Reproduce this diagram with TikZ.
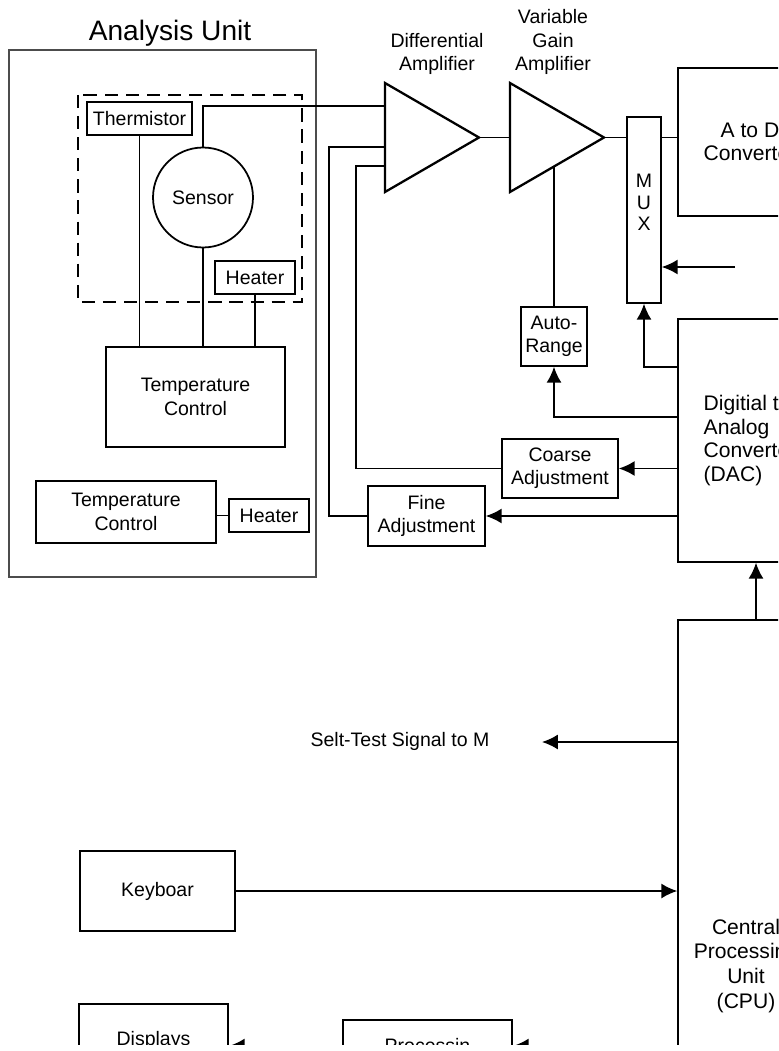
\documentclass[tikz,border=0pt]{standalone}
\usepackage{fontspec}
\setmainfont{Liberation Sans}
\usetikzlibrary{arrows.meta}

\tikzset{
    block/.style={draw, line width=0.9pt, inner sep=0pt, align=center},
    wire/.style={line width=0.9pt},
    feed/.style={wire, -{Latex[length=9pt, width=8.5pt]}},
    amp/.style={line width=1.3pt, line join=miter},
    bigtext/.style={font=\fontsize{12}{13.4}\selectfont},
}

\begin{document}
\begin{tikzpicture}[x=0.02cm, y=-0.02cm, font=\fontsize{11.1}{13.3}\selectfont]
    \useasboundingbox (0, 0) rectangle (778, 1051);
    \clip (0, 0) rectangle (778, 1044);
    \node (title) at (170, 33) {\fontsize{16}{19}\selectfont Analysis Unit};
    \draw[line width=0.8pt, black!70] (9, 50) rectangle (316, 577);
    \draw[line width=1.4pt, dash pattern=on 7.5pt off 4.5pt] (78, 95) rectangle (302, 302);
    \node[block] (therm) at (139.5, 118.5) [minimum width=2.1cm, minimum height=0.66cm] {Thermistor};
    \node[block, circle, line width=1pt, minimum size=2cm] (sensor) at (203, 197.5) {Sensor};
    \node[block] (heatA) at (255, 277.5) [minimum width=1.6cm, minimum height=0.66cm] {Heater};
    \node[block] (tcA) at (195.5, 397) [minimum width=3.58cm, minimum height=2cm] {Temperature\\Control};
    \node[block, line width=1.3pt] (tcB) at (126, 512) [minimum width=3.6cm, minimum height=1.24cm] {Temperature\\Control};
    \node[block] (heatB) at (269, 515.5) [minimum width=1.6cm, minimum height=0.66cm] {Heater};
    \draw[wire]
        (therm.south) -- (therm.south |- tcA.north)
        (sensor.south) -- (sensor.south |- tcA.north)
        (heatA.south) -- (heatA.south |- tcA.north)
        (heatB.west) -- (tcB.east |- heatB.west);

    \node[align=center] (difL) at (437, 54) {Differential\\Amplifier};
    \node[align=center] (vgaL) at (553, 42) {Variable\\Gain\\Amplifier};
    \draw[amp]
        (385, 83) -- (385, 192) -- (479, 137.5) -- cycle
        (510, 83) -- (510, 192) -- (604, 137.5) -- cycle;
    \foreach \p/\n in {
        {385, 106}/difin1,
        {385, 147}/difin2,
        {385, 166}/difin3,
        {479, 137.5}/difout,
        {510, 137.5}/vgain,
        {604, 137.5}/vgaout,
        {554, 166}/vgabot,
        {329, 147}/finebend,
        {356, 166}/coarsebend,
        {735, 267}/muxsel,
        {756, 620}/cpudac,
        {542, 742}/testtip} {
        \coordinate (\n) at (\p);
    }
    \foreach \n/\y in {dacmux/367, dacauto/417, daccoarse/468.5, dacfine/516}
        \coordinate (\n) at (678, \y);

    \node[block, font=\fontsize{11.1}{12.2}\selectfont, text depth=0.3cm] (mux) at (644, 210) [minimum width=0.68cm, minimum height=3.72cm] {M\\U\\X};
    \node[block, bigtext] (adc) at (750, 142) [minimum width=2.88cm, minimum height=2.96cm] {A to D\\Converter};
    \node[block] (auto) at (554, 336.5) [minimum width=1.32cm, minimum height=1.18cm] {Auto-\\Range};
    \node[block, bigtext, align=left] (dac) at (750, 440.5) [minimum width=2.88cm, minimum height=4.86cm] {Digitial to\\Analog\\Converter\\(DAC)};
    \node[block] (coarse) at (560, 468.5) [minimum width=2.32cm, minimum height=1.18cm] {Coarse\\Adjustment};
    \node[block] (fine) at (426.5, 516) [minimum width=2.34cm, minimum height=1.2cm] {Fine\\Adjustment};
    \node[block, font=\fontsize{12}{14.2}\selectfont] (cpu) at (746, 966) [minimum width=2.72cm, minimum height=13.84cm] {Central\\Processing\\Unit\\(CPU)};
    \node (selftest) at (400, 741) {Selt-Test Signal to M};
    \node[block] (keyb) at (157.5, 891) [minimum width=3.1cm, minimum height=1.6cm] {Keyboar};
    \node[block] (disp) at (153.5, 1040) [minimum width=2.98cm, minimum height=1.44cm] {Displays};
    \node[block] (proc) at (427.5, 1046) [minimum width=3.38cm, minimum height=1.04cm] {Processin};

    \draw[wire]
        (sensor.north) |- (difin1)
        (fine.west) -| (finebend) -- (difin2)
        (coarse.west) -| (coarsebend) -- (difin3)
        (difout) -- (vgain)
        (vgaout) -- (mux.west |- vgaout)
        (mux.east |- vgaout) -- (adc.west |- vgaout)
        (vgabot) -- (auto.north);
    \draw[feed] (dacmux) -| (mux.south);
    \draw[feed] (dacauto) -| (auto.south);
    \draw[feed] (daccoarse) -- (coarse.east);
    \draw[feed] (dacfine) -- (fine.east);
    \draw[feed] (muxsel) -- (mux.east |- muxsel);
    \draw[feed] (cpudac) -- (cpudac |- dac.south);
    \draw[feed] (cpu.west |- testtip) -- (testtip);
    \draw[feed] (keyb.east) -- (cpu.west |- keyb.east);
    \draw[feed] (cpu.west |- proc.east) -- (proc.east);
    \draw[feed] (proc.west) -- (disp.east |- proc.west);
\end{tikzpicture}
\end{document}
